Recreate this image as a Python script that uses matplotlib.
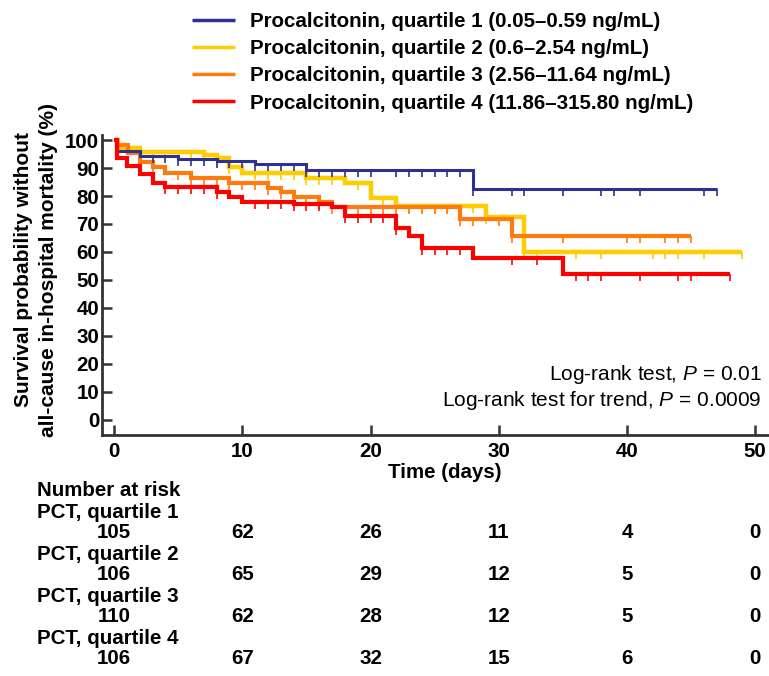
import numpy as np
import matplotlib
matplotlib.use("Agg")
import matplotlib.pyplot as plt
from matplotlib.path import Path
from matplotlib.markers import MarkerStyle

# ---------------- data ----------------
labels = [
    "Procalcitonin, quartile 1 (0.05\u20130.59 ng/mL)",
    "Procalcitonin, quartile 2 (0.6\u20132.54 ng/mL)",
    "Procalcitonin, quartile 3 (2.56\u201311.64 ng/mL)",
    "Procalcitonin, quartile 4 (11.86\u2013315.80 ng/mL)",
]
colors = ["#2E3192", "#FFCC00", "#FF7A0F", "#FF0000"]

q1_times = [0, 0.2, 2, 5, 8, 11, 15, 28]
q1_surv = [100, 96.2, 94.3, 93.3, 92.6, 91.3, 89.3, 82.4]
q1_end = 47
q1_cens = [3, 4, 5, 6, 7, 8, 9, 10, 11, 12, 13, 14, 15, 16, 17, 18, 19, 20, 22, 23,
           24, 25, 26, 27, 28, 31, 32, 35, 38, 39, 41, 46, 47]

q2_times = [0, 0.3, 2, 7, 8, 9, 10, 15, 18, 20, 22, 29, 32]
q2_surv = [100, 97.0, 95.8, 94.6, 93.5, 90.5, 88.2, 86.3, 84.5, 79.2, 76.4, 72.4, 60.1]
q2_end = 49
q2_cens = [2, 3, 4, 5, 6, 7, 8, 9, 11, 12, 13, 14, 15, 16, 17, 19, 21, 23, 24, 25,
           26, 27, 28, 29, 32, 33, 36, 38, 42, 43, 44, 46, 49]

q3_times = [0, 0.2, 1.1, 2, 3, 4, 6, 9, 12, 13, 14, 16, 17, 27, 31]
q3_surv = [100, 98.2, 95.2, 92.3, 90.5, 88.1, 86.3, 84.8, 82.7, 81.5, 79.8, 78.0, 76.1, 71.7, 65.7]
q3_end = 45
q3_cens = [3, 5, 6, 7, 8, 9, 10, 11, 12, 13, 14, 15, 16, 17, 18, 19, 20, 21, 22, 23,
           24, 25, 26, 27, 28, 30, 31, 35, 40, 41, 43, 44, 45]

q4_times = [0, 0.2, 1, 2, 3, 4, 8, 9, 10, 14, 17, 18, 22, 23, 24, 28, 35]
q4_surv = [100, 93.7, 90.7, 87.7, 84.8, 83.3, 81.5, 79.8, 78.0, 77.1, 76.0, 72.9, 68.4,
           65.7, 61.3, 57.7, 52.1]
q4_end = 48
q4_cens = [4, 5, 6, 7, 8, 11, 12, 13, 14, 15, 16, 18, 19, 20, 21, 22, 24, 25, 26, 27,
           31, 33, 36, 37, 38, 41, 44, 45, 48]

risk_times = [0, 10, 20, 30, 40, 50]
risk_labels = ["PCT, quartile 1", "PCT, quartile 2", "PCT, quartile 3", "PCT, quartile 4"]
risk_q1 = [105, 62, 26, 11, 4, 0]
risk_q2 = [106, 65, 29, 12, 5, 0]
risk_q3 = [110, 62, 28, 12, 5, 0]
risk_q4 = [106, 67, 32, 15, 6, 0]

x_ticks = [0, 10, 20, 30, 40, 50]
y_ticks = [0, 10, 20, 30, 40, 50, 60, 70, 80, 90, 100]

# ---------------- style ----------------
BOLD = ["Liberation Sans", "DejaVu Sans"]
REG = ["Liberation Sans", "DejaVu Sans"]
plt.rcParams["font.family"] = REG
plt.rcParams["mathtext.fontset"] = "custom"
plt.rcParams["mathtext.it"] = "Liberation Sans:italic"
plt.rcParams["mathtext.rm"] = "Liberation Sans"
FS = 14.8

W, H = 769, 676
fig = plt.figure(figsize=(W / 100, H / 100), dpi=100)

def fx(px):
    return px / W

def fy(py):
    return 1 - py / H

ax_l, ax_r, ax_t, ax_b = 102, 768, 135, 435
ax = fig.add_axes([fx(ax_l), fy(ax_b), fx(ax_r) - fx(ax_l), fy(ax_t) - fy(ax_b)])
ax.set_xlim(-0.94, 51.0)
ax.set_ylim(-5.4, 101.8)

tick_marker = MarkerStyle(Path([(0, 0), (0, -1)], [Path.MOVETO, Path.LINETO]))

groups = [
    (q1_times, q1_surv, q1_end, q1_cens, 2.2, 4),
    (q2_times, q2_surv, q2_end, q2_cens, 3.2, 2),
    (q3_times, q3_surv, q3_end, q3_cens, 3.0, 3),
    (q4_times, q4_surv, q4_end, q4_cens, 3.0, 5),
]
handles = []
for (t, s, end, cens, lw, z), col, lab in zip(groups, colors, labels):
    tt = np.array(t + [end], dtype=float)
    ss = np.array(s + [s[-1]], dtype=float)
    (ln,) = ax.step(tt, ss, where="post", color=col, lw=lw, zorder=z,
                    solid_joinstyle="miter", solid_capstyle="butt", label=lab)
    c = np.array(cens, dtype=float)
    idx = np.searchsorted(np.array(t, dtype=float), c, side="right") - 1
    ax.plot(c, np.array(s)[idx], ls="none", marker=tick_marker, markersize=10,
            markeredgewidth=1.2, markeredgecolor=col, zorder=z)
    handles.append(ln)

for sp in ["top", "right"]:
    ax.spines[sp].set_visible(False)
for sp in ["left", "bottom"]:
    ax.spines[sp].set_linewidth(2.0)
    ax.spines[sp].set_color("#333333")

ax.set_xticks(x_ticks)
ax.set_yticks(y_ticks)
ax.tick_params(direction="in", length=7, width=1.8, color="#333333", labelsize=FS)
ax.tick_params(axis="x", pad=5)
ax.tick_params(axis="y", pad=2)
for lbl in ax.get_xticklabels() + ax.get_yticklabels():
    lbl.set_fontfamily(BOLD)
    lbl.set_fontweight("bold")

fig.text(fx(445), fy(472), "Time (days)", ha="center", va="center",
         fontsize=FS, fontweight="bold", family=BOLD)

fig.text(fx(36), fy(270),
         "Survival probability without\nall-cause in-hospital mortality (%)",
         rotation=90, ha="center", va="center", fontsize=15, fontweight="bold",
         family=REG, linespacing=1.35, multialignment="center")

fig.text(fx(762), fy(375), "Log-rank test, $\\mathit{P}$ = 0.01", ha="right",
         va="center", fontsize=15, family=REG)
fig.text(fx(762), fy(400), "Log-rank test for trend, $\\mathit{P}$ = 0.0009", ha="right",
         va="center", fontsize=15, family=REG)

leg = fig.legend(handles=handles, labels=labels, loc="upper left",
                 bbox_to_anchor=(fx(192), fy(12)), frameon=False,
                 borderpad=0, borderaxespad=0, handlelength=2.1,
                 handletextpad=0.73, labelspacing=0.40,
                 prop={"family": BOLD, "weight": "bold", "size": FS})
for h in leg.legend_handles:
    h.set_linewidth(2.5)

# number at risk table
row_y = [491 + 21 * i for i in range(9)]
fig.text(fx(37), fy(row_y[0]), "Number at risk", ha="left", va="center",
         fontsize=FS, fontweight="bold", family=BOLD)
risk_rows = [risk_q1, risk_q2, risk_q3, risk_q4]
for i, (lab, vals) in enumerate(zip(risk_labels, risk_rows)):
    fig.text(fx(37), fy(row_y[1 + 2 * i]), lab, ha="left", va="center",
             fontsize=FS, fontweight="bold", family=BOLD)
    yv = fy(row_y[2 + 2 * i])
    for tx, v in zip(risk_times, vals):
        xf = ax.transData.transform((tx, 0))[0] / fig.bbox.width
        fig.text(xf, yv, str(v), ha="center", va="center", fontsize=FS,
                 fontweight="bold", family=BOLD)

fig.savefig("out.png", dpi=100)
